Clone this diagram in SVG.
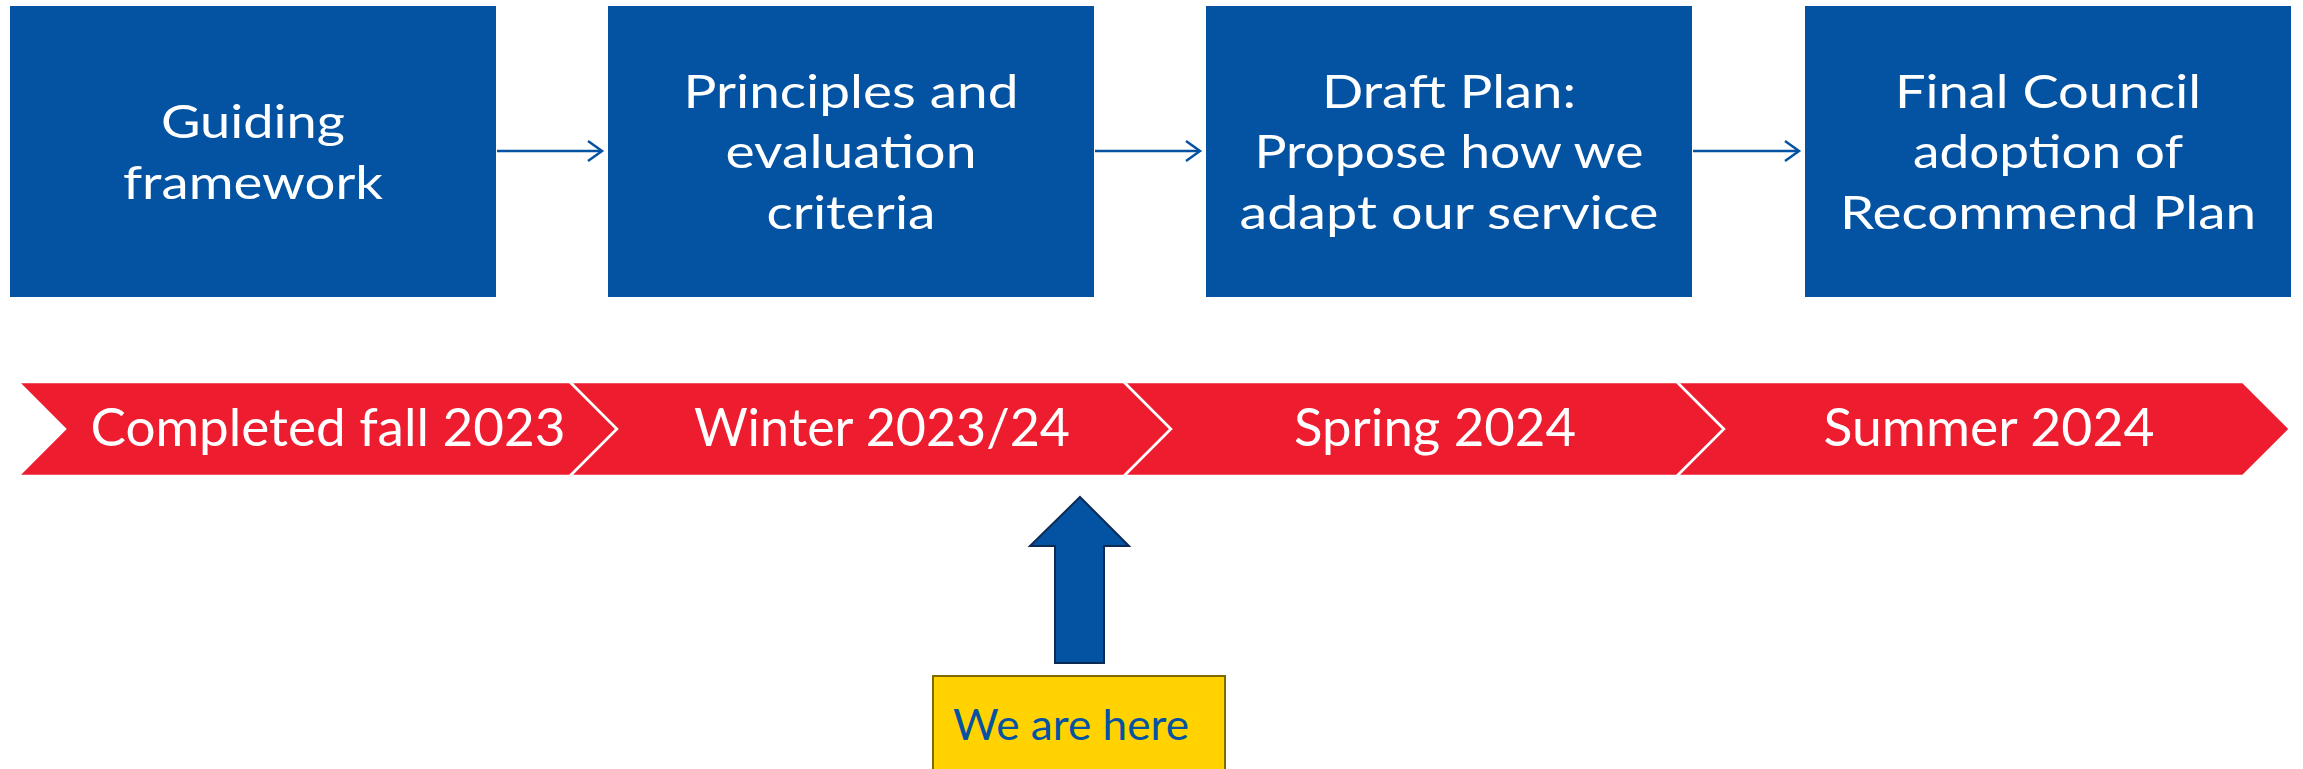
<svg xmlns="http://www.w3.org/2000/svg" width="2303" height="769" viewBox="0 0 2303 769">
<style>
.box{fill:#0453A3}
.bt{font-family:Lato,"Open Sans",sans-serif;font-size:46px;fill:#fff;text-anchor:middle}
.chev{fill:#ED1C2E;stroke:#fff;stroke-width:2.5;stroke-linejoin:miter}
.ct{font-family:Lato,"Liberation Sans",sans-serif;font-size:53px;fill:#fff;text-anchor:middle}
.conn{stroke:#0453A3;stroke-width:2.5;fill:none}
</style>
<defs>
<marker id="ah" markerUnits="userSpaceOnUse" markerWidth="20" markerHeight="24" refX="15" refY="11" orient="auto" overflow="visible">
<path d="M1,1 L15,11 L1,21" fill="none" stroke="#0453A3" stroke-width="2.5"/>
</marker>
</defs>
<rect width="2303" height="769" fill="#fff"/>
<g id="node-guiding">
<rect class="box" x="10" y="6" width="486" height="291"/>
<text class="bt"><tspan x="253" y="138" textLength="184" lengthAdjust="spacingAndGlyphs">Guiding</tspan><tspan x="253" y="199" textLength="260" lengthAdjust="spacingAndGlyphs">framework</tspan></text>
</g>
<g id="node-principles">
<rect class="box" x="608" y="6" width="486" height="291"/>
<text class="bt"><tspan x="851" y="108" textLength="335" lengthAdjust="spacingAndGlyphs">Principles and</tspan><tspan x="851" y="168" textLength="251" lengthAdjust="spacingAndGlyphs">evaluation</tspan><tspan x="851" y="229" textLength="169" lengthAdjust="spacingAndGlyphs">criteria</tspan></text>
</g>
<g id="node-draft">
<rect class="box" x="1206" y="6" width="486" height="291"/>
<text class="bt"><tspan x="1449" y="108" textLength="254" lengthAdjust="spacingAndGlyphs">Draft Plan:</tspan><tspan x="1449" y="168" textLength="389" lengthAdjust="spacingAndGlyphs">Propose how we</tspan><tspan x="1449" y="229" textLength="419" lengthAdjust="spacingAndGlyphs">adapt our service</tspan></text>
</g>
<g id="node-final">
<rect class="box" x="1805" y="6" width="486" height="291"/>
<text class="bt"><tspan x="2048" y="108" textLength="306" lengthAdjust="spacingAndGlyphs">Final Council</tspan><tspan x="2048" y="168" textLength="270" lengthAdjust="spacingAndGlyphs">adoption of</tspan><tspan x="2048" y="229" textLength="416" lengthAdjust="spacingAndGlyphs">Recommend Plan</tspan></text>
</g>
<g id="connectors">
<line class="conn" x1="497" y1="151" x2="602" y2="151" marker-end="url(#ah)"/>
<line class="conn" x1="1095" y1="151" x2="1200" y2="151" marker-end="url(#ah)"/>
<line class="conn" x1="1693" y1="151" x2="1799" y2="151" marker-end="url(#ah)"/>
</g>
<g id="timeline">
<g id="seg-fall2023">
<polygon class="chev" points="18,382 570,382 617,429 570,476 18,476 65,429"/>
<text class="ct" x="328" y="446" textLength="475" lengthAdjust="spacingAndGlyphs">Completed fall 2023</text>
</g>
<g id="seg-winter">
<polygon class="chev" points="570,382 1124,382 1171,429 1124,476 570,476 617,429"/>
<text class="ct" x="882" y="446" textLength="376" lengthAdjust="spacingAndGlyphs">Winter 2023/24</text>
</g>
<g id="seg-spring">
<polygon class="chev" points="1124,382 1677,382 1724,429 1677,476 1124,476 1171,429"/>
<text class="ct" x="1435" y="446" textLength="282" lengthAdjust="spacingAndGlyphs">Spring 2024</text>
</g>
<g id="seg-summer">
<polygon class="chev" points="1677,382 2243,382 2290,429 2243,476 1677,476 1724,429"/>
<text class="ct" x="1989" y="446" textLength="331" lengthAdjust="spacingAndGlyphs">Summer 2024</text>
</g>
</g>
<g id="node-here-arrow">
<polygon points="1080,497 1129,546 1104,546 1104,663 1055,663 1055,546 1030,546" fill="#0453A3" stroke="#0D2B52" stroke-width="2"/>
</g>
<g id="node-we-are-here">
<rect x="933" y="676" width="292" height="100" fill="#FFD200" stroke="#7F6A00" stroke-width="2"/>
<text x="953" y="740" font-family="Lato,'Liberation Sans',sans-serif" font-size="43" fill="#0453A3" textLength="236" lengthAdjust="spacingAndGlyphs">We are here</text>
</g>
</svg>
